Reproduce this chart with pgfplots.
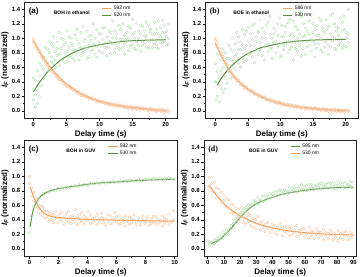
\documentclass[border=0pt]{standalone}
\usepackage{fontspec}
\setmainfont{Liberation Sans}
\newfontfamily\serifb{Liberation Serif}
\usepackage{pgfplots}
\usepackage{pgfplotstable}
\pgfplotsset{compat=1.18}

\definecolor{orl}{HTML}{F4A15D}
\definecolor{orm}{HTML}{F6C29C}
\definecolor{grl}{HTML}{5E8D3F}
\definecolor{grm}{HTML}{ADDCA8}

\pgfplotstableread{
t o o2 g1 g2 g3
0.0 0.95 0.99 0.15 0.30 0.45
0.3 0.93 0.89 0.05 0.42 0.22
0.6 0.87 0.84 0.28 0.55 0.10
0.9 0.80 0.83 0.48 0.20 0.66
1.2 0.77 0.74 0.62 0.35 0.80
1.5 0.70 0.73 0.58 0.75 0.45
1.8 0.69 0.66 0.72 0.50 0.88
2.1 0.62 0.65 0.66 0.85 0.55
2.4 0.61 0.58 0.80 0.58 0.96
2.7 0.57 0.55 0.74 0.92 0.68
3.0 0.52 0.55 0.88 0.65 1.02
3.3 0.51 0.48 0.70 0.82 0.60
3.6 0.46 0.49 0.95 0.76 0.86
3.9 0.45 0.43 0.78 0.62 1.08
4.2 0.41 0.43 0.86 1.00 0.70
4.5 0.40 0.38 0.72 0.90 0.98
4.8 0.36 0.38 0.94 0.80 0.66
5.1 0.35 0.33 0.82 0.68 1.10
5.4 0.33 0.35 1.02 0.87 0.74
5.7 0.30 0.32 0.76 0.93 1.00
6.0 0.30 0.28 0.90 0.72 0.84
6.3 0.27 0.29 0.84 1.05 0.69
6.6 0.26 0.24 0.98 0.78 1.12
6.9 0.24 0.26 0.70 0.92 0.86
7.2 0.23 0.21 0.88 1.08 0.76
7.5 0.21 0.23 0.95 0.80 1.16
7.8 0.21 0.19 0.82 0.99 0.88
8.1 0.19 0.20 1.10 0.86 0.72
8.4 0.18 0.16 0.90 0.75 1.02
8.7 0.17 0.19 0.97 1.04 0.82
9.0 0.16 0.15 0.84 0.92 1.20
9.3 0.15 0.16 1.00 0.78 0.90
9.6 0.14 0.12 0.88 1.12 0.74
9.9 0.13 0.15 0.95 0.83 1.06
10.2 0.13 0.11 1.06 0.90 0.80
10.5 0.12 0.13 0.80 0.98 1.14
10.8 0.11 0.10 0.93 1.15 0.87
11.1 0.10 0.12 1.02 0.86 0.76
11.4 0.10 0.08 0.88 0.96 1.10
11.7 0.09 0.10 1.08 0.79 0.94
12.0 0.09 0.07 0.92 1.01 1.24
12.3 0.08 0.09 0.85 1.10 0.80
12.6 0.08 0.06 1.00 0.90 1.06
12.9 0.07 0.08 0.94 1.18 0.86
13.2 0.07 0.05 1.12 0.84 0.98
13.5 0.06 0.08 0.88 0.98 1.20
13.8 0.06 0.04 1.04 0.92 0.78
14.1 0.05 0.07 0.96 1.08 1.00
14.4 0.05 0.03 0.83 1.00 1.16
14.7 0.05 0.06 1.14 0.90 0.88
15.0 0.04 0.02 0.92 1.05 1.26
15.3 0.04 0.05 1.00 0.86 1.08
15.6 0.04 0.02 1.20 0.95 0.84
15.9 0.03 0.05 0.90 1.10 1.00
16.2 0.03 0.01 1.06 0.82 1.18
16.5 0.03 0.04 0.95 1.16 0.90
16.8 0.03 0.01 1.10 0.92 1.04
17.1 0.02 0.03 0.88 1.02 1.22
17.4 0.02 0.00 1.18 0.96 0.86
17.7 0.02 0.03 0.98 1.08 1.12
18.0 0.02 0.00 1.05 0.87 0.98
18.3 0.01 0.02 0.92 1.22 1.06
18.6 0.01 -0.01 1.12 0.97 0.88
18.9 0.01 0.02 0.86 1.06 1.24
19.2 0.01 -0.01 1.02 1.15 0.94
19.5 0.00 0.02 1.25 0.94 1.08
19.8 0.00 -0.02 0.96 1.08 1.18
20.1 0.00 0.01 1.10 0.90 1.02
20.4 0.01 -0.02 1.00 1.20 0.92
}\tA

\pgfplotstableread{
t o o2 g1 g2 g3
0.0 0.97 1.00 0.40 0.65 0.15
0.3 0.90 0.94 0.20 0.55 0.78
0.6 0.86 0.82 0.45 0.12 0.35
0.9 0.80 0.77 0.30 0.70 0.55
1.2 0.72 0.75 0.60 0.25 0.85
1.5 0.68 0.65 0.48 0.80 0.30
1.8 0.62 0.64 0.72 0.38 0.62
2.1 0.57 0.55 0.55 0.90 0.72
2.4 0.53 0.55 0.85 0.62 0.45
2.7 0.49 0.47 0.68 1.00 0.82
3.0 0.46 0.48 0.92 0.75 0.58
3.3 0.43 0.41 0.78 1.08 0.94
3.6 0.40 0.42 1.02 0.66 0.84
3.9 0.38 0.36 0.84 0.95 0.60
4.2 0.35 0.37 0.72 1.12 0.92
4.5 0.33 0.31 1.05 0.86 0.68
4.8 0.31 0.33 0.90 0.70 1.10
5.1 0.29 0.28 1.15 0.96 0.78
5.4 0.28 0.26 0.80 1.06 0.90
5.7 0.26 0.28 0.98 0.74 1.18
6.0 0.24 0.22 1.20 0.90 0.66
6.3 0.23 0.24 0.85 1.02 0.96
6.6 0.22 0.20 1.10 0.78 1.08
6.9 0.20 0.21 0.94 1.25 0.82
7.2 0.19 0.18 0.76 1.00 1.14
7.5 0.18 0.19 1.08 0.88 0.70
7.8 0.17 0.15 0.92 1.18 1.00
8.1 0.15 0.16 1.22 0.82 0.92
8.4 0.15 0.13 0.86 1.05 1.30
8.7 0.14 0.15 1.00 0.72 0.86
9.0 0.13 0.12 1.14 0.94 1.06
9.3 0.12 0.13 0.80 1.10 0.96
9.6 0.11 0.10 1.04 0.88 1.20
9.9 0.11 0.12 0.92 1.28 0.74
10.2 0.10 0.08 1.18 0.76 1.02
10.5 0.09 0.10 0.84 1.02 0.90
10.8 0.09 0.07 1.08 0.92 1.16
11.1 0.08 0.09 0.96 1.22 0.80
11.4 0.08 0.06 1.26 0.84 1.04
11.7 0.07 0.08 0.88 1.06 0.94
12.0 0.07 0.05 1.02 0.70 1.24
12.3 0.06 0.07 1.16 0.96 0.86
12.6 0.06 0.04 0.82 1.12 1.00
12.9 0.05 0.06 1.06 0.90 1.36
13.2 0.05 0.03 0.94 1.30 0.76
13.5 0.05 0.06 1.20 0.86 1.02
13.8 0.04 0.02 0.78 1.04 1.14
14.1 0.04 0.05 1.10 0.95 0.88
14.4 0.04 0.02 0.90 1.24 1.06
14.7 0.03 0.04 1.32 0.82 0.98
15.0 0.03 0.01 0.96 1.08 1.20
15.3 0.03 0.04 1.12 0.74 0.92
15.6 0.03 0.01 0.86 1.18 1.04
15.9 0.02 0.03 1.04 0.92 1.28
16.2 0.02 0.00 1.24 1.00 0.84
16.5 0.02 0.03 0.80 1.14 1.10
16.8 0.02 0.00 1.08 0.88 0.96
17.1 0.01 0.02 0.94 1.26 1.12
17.4 0.01 -0.01 1.16 0.78 0.90
17.7 0.01 0.02 0.88 1.06 1.32
18.0 0.01 -0.01 1.34 0.96 1.02
18.3 0.01 0.02 1.00 1.20 0.86
18.6 0.01 -0.01 0.84 1.10 1.16
18.9 0.00 0.01 1.14 0.90 1.04
19.2 0.00 -0.02 0.96 1.28 0.92
19.5 0.00 0.01 1.22 0.86 1.10
19.8 0.00 -0.02 0.90 1.12 1.30
20.1 0.00 0.01 1.08 1.00 0.88
20.4 0.00 -0.01 1.40 0.94 1.06
}\tB

\pgfplotstableread{
t o1 o2 g
0.00 1.00 0.90 0.22
0.15 0.84 0.72 0.45
0.30 0.66 0.78 0.58
0.45 0.70 0.58 0.64
0.60 0.54 0.66 0.70
0.75 0.60 0.48 0.72
0.90 0.46 0.58 0.75
1.05 0.55 0.42 0.76
1.20 0.44 0.52 0.78
1.35 0.50 0.38 0.78
1.50 0.40 0.48 0.80
1.65 0.47 0.36 0.81
1.80 0.42 0.52 0.80
1.95 0.36 0.45 0.83
2.10 0.48 0.40 0.82
2.25 0.38 0.50 0.84
2.40 0.45 0.34 0.83
2.55 0.40 0.49 0.85
2.70 0.52 0.37 0.84
2.85 0.35 0.44 0.86
3.00 0.46 0.40 0.85
3.15 0.39 0.54 0.87
3.30 0.44 0.33 0.86
3.45 0.37 0.47 0.88
3.60 0.50 0.39 0.87
3.75 0.34 0.45 0.89
3.90 0.43 0.38 0.88
4.05 0.40 0.51 0.87
4.20 0.47 0.35 0.90
4.35 0.36 0.42 0.89
4.50 0.44 0.39 0.90
4.65 0.33 0.48 0.91
4.80 0.41 0.37 0.89
4.95 0.49 0.43 0.91
5.10 0.36 0.40 0.92
5.25 0.42 0.32 0.90
5.40 0.38 0.47 0.92
5.55 0.45 0.35 0.91
5.70 0.34 0.41 0.93
5.85 0.40 0.50 0.92
6.00 0.37 0.44 0.93
6.15 0.46 0.33 0.92
6.30 0.35 0.40 0.94
6.45 0.42 0.36 0.93
6.60 0.31 0.45 0.94
6.75 0.39 0.38 0.93
6.90 0.44 0.34 0.95
7.05 0.36 0.41 0.94
7.20 0.40 0.47 0.95
7.35 0.33 0.37 0.94
7.50 0.43 0.39 0.96
7.65 0.38 0.32 0.95
7.80 0.46 0.41 0.94
7.95 0.35 0.37 0.96
8.10 0.40 0.44 0.95
8.25 0.32 0.38 0.96
8.40 0.42 0.35 0.95
8.55 0.37 0.45 0.97
8.70 0.44 0.34 0.96
8.85 0.34 0.40 0.95
9.00 0.39 0.36 0.97
9.15 0.45 0.31 0.96
9.30 0.35 0.42 0.97
9.45 0.41 0.37 0.96
9.60 0.33 0.48 0.98
9.75 0.38 0.36 0.97
9.90 0.52 0.40 0.96
}\tC

\pgfplotstableread{
t o1 o2 g1 g2
1.0 0.98 0.86 0.06 0.10
2.5 0.90 0.80 0.09 0.04
4.0 0.78 0.92 0.12 0.07
5.5 0.84 0.70 0.10 0.14
7.0 0.72 0.82 0.16 0.11
8.5 0.78 0.64 0.14 0.19
10.0 0.66 0.74 0.22 0.17
11.5 0.58 0.70 0.20 0.26
13.0 0.68 0.55 0.27 0.23
14.5 0.50 0.62 0.32 0.28
16.0 0.60 0.48 0.35 0.40
17.5 0.45 0.56 0.42 0.36
19.0 0.54 0.40 0.44 0.48
20.5 0.42 0.58 0.50 0.45
22.0 0.50 0.36 0.48 0.55
23.5 0.44 0.34 0.57 0.52
25.0 0.38 0.48 0.55 0.60
26.5 0.46 0.32 0.62 0.58
28.0 0.30 0.42 0.60 0.66
29.5 0.40 0.28 0.66 0.63
31.0 0.34 0.44 0.62 0.70
32.5 0.26 0.36 0.68 0.66
34.0 0.38 0.30 0.72 0.65
35.5 0.24 0.34 0.67 0.73
37.0 0.36 0.28 0.74 0.70
38.5 0.30 0.22 0.70 0.76
40.0 0.34 0.26 0.76 0.72
41.5 0.22 0.32 0.73 0.78
43.0 0.30 0.20 0.79 0.74
44.5 0.27 0.34 0.75 0.80
46.0 0.18 0.28 0.81 0.76
47.5 0.31 0.24 0.77 0.82
49.0 0.22 0.29 0.80 0.75
50.5 0.28 0.18 0.84 0.78
52.0 0.20 0.30 0.79 0.83
53.5 0.26 0.22 0.85 0.80
55.0 0.32 0.17 0.78 0.84
56.5 0.19 0.25 0.86 0.81
58.0 0.27 0.21 0.82 0.88
59.5 0.16 0.28 0.85 0.80
61.0 0.24 0.20 0.80 0.87
62.5 0.30 0.15 0.88 0.83
64.0 0.18 0.25 0.84 0.89
65.5 0.23 0.14 0.81 0.86
67.0 0.28 0.20 0.88 0.84
68.5 0.15 0.24 0.85 0.90
70.0 0.22 0.18 0.90 0.82
71.5 0.27 0.12 0.84 0.88
73.0 0.17 0.23 0.89 0.86
74.5 0.21 0.14 0.83 0.91
76.0 0.26 0.19 0.90 0.85
77.5 0.13 0.22 0.86 0.92
79.0 0.20 0.16 0.88 0.83
80.5 0.25 0.11 0.93 0.87
82.0 0.15 0.21 0.85 0.90
83.5 0.22 0.13 0.91 0.86
85.0 0.18 0.24 0.84 0.92
86.5 0.12 0.19 0.89 0.87
88.0 0.23 0.15 0.86 0.93
89.5 0.17 0.21 0.92 0.84
}\tD

\pgfplotsset{
  panel/.style={
    scale only axis, width=152.5bp, height=116bp,
    ymin=-0.1, ymax=1.5, ytick={0,0.2,...,1.4},
    yticklabel style={/pgf/number format/fixed,/pgf/number format/fixed zerofill,/pgf/number format/precision=1, inner sep=1.2bp},
    xticklabel style={inner sep=1bp},
    /pgf/number format/assume math mode=true,
    tick align=outside, tick pos=left, minor tick num=1,
    major tick length=2.8bp, minor tick length=1.6bp,
    tick style={black, line width=0.5pt},
    axis line style={black!85, line width=0.6pt},
    ticklabel style={font=\fontsize{6}{7}\selectfont\bfseries},
    xlabel={Delay time (s)},
    ylabel={{\itshape I\textsubscript{F}} (normalized)},
    label style={font=\fontsize{8}{9}\selectfont\bfseries},
    xlabel style={at={(axis description cs:0.5,-0.143)}, anchor=center},
    ylabel style={at={(axis description cs:-0.128,0.5)}, anchor=center},
    legend style={draw=none, fill=none, font=\fontsize{5}{6}\selectfont,
      anchor=north west, row sep=-2pt, inner sep=1pt},
    legend cell align=left,
    legend image code/.code={\draw[##1, line width=0.8pt] (0,0) -- (0.32cm,0);},
  },
  sco/.style={only marks, mark=o, mark size=1.4bp, color=orm, mark options={line width=0.3pt}, forget plot},
  scg/.style={only marks, mark=o, mark size=1.4bp, color=grm, mark options={line width=0.3pt}, forget plot},
  fito/.style={orl, line width=1.1pt, smooth, no marks},
  fitg/.style={grl, line width=1.0pt, smooth, no marks},
}

\begin{document}
\begin{tikzpicture}
\path[use as bounding box] (0,0) rectangle (361bp,-277bp);

% (a)
\begin{axis}[panel, at={(24.5bp,-2bp)}, anchor=north west,
  xmin=-1.34, xmax=21.7, xtick={0,5,...,20}, legend style={at={(0.5,0.995)}}]
\addplot[scg] table[x=t,y=g1]{\tA};
\addplot[scg] table[x=t,y=g2]{\tA};
\addplot[scg] table[x=t,y=g3]{\tA};
\addplot[sco] table[x=t,y=o]{\tA};
\addplot[sco] table[x=t,y=o2]{\tA};
\addplot[fito] coordinates {(0,0.97)(1,0.80)(2,0.66)(3,0.55)(4,0.45)(5,0.37)(6,0.30)(7,0.245)(8,0.20)(9,0.16)(10,0.13)(12,0.085)(14,0.055)(16,0.035)(18,0.015)(20,0.0)};
\addlegendentry{592 nm}
\addplot[fitg] coordinates {(0,0.26)(1,0.40)(2,0.52)(3,0.61)(4,0.69)(5,0.75)(6,0.80)(7,0.84)(8,0.87)(10,0.91)(12,0.94)(14,0.96)(16,0.97)(18,0.975)(20,0.98)};
\addlegendentry{520 nm}
\node[anchor=west, font=\fontsize{8}{9}\selectfont\bfseries] at (rel axis cs:0.005,0.915) {(a)};
\node[font=\fontsize{5}{6}\selectfont\bfseries] at (rel axis cs:0.31,0.905) {BOH in ethanol};
\end{axis}

% (b)
\begin{axis}[panel, at={(205.5bp,-2bp)}, anchor=north west,
  xmin=-1.5, xmax=21.9, xtick={0,5,...,20}, legend style={at={(0.5,0.995)}}]
\addplot[scg] table[x=t,y=g1]{\tB};
\addplot[scg] table[x=t,y=g2]{\tB};
\addplot[scg] table[x=t,y=g3]{\tB};
\addplot[sco] table[x=t,y=o]{\tB};
\addplot[sco] table[x=t,y=o2]{\tB};
\addplot[fito] coordinates {(0,0.93)(1,0.74)(2,0.58)(3,0.46)(4,0.37)(5,0.30)(6,0.24)(7,0.19)(8,0.15)(10,0.10)(12,0.06)(14,0.04)(16,0.02)(18,0.01)(20,0.0)};
\addlegendentry{586 nm}
\addplot[fitg] coordinates {(0.3,0.35)(1,0.46)(2,0.57)(3,0.66)(4,0.73)(5,0.79)(6,0.83)(7,0.87)(8,0.89)(10,0.93)(12,0.955)(14,0.97)(16,0.978)(18,0.982)(20,0.985)};
\addlegendentry{530 nm}
\node[anchor=west, font=\fontsize{8}{9}\selectfont\serifb\bfseries] at (rel axis cs:0.005,0.915) {(b)};
\node[font=\fontsize{5}{6}\selectfont\bfseries] at (rel axis cs:0.30,0.905) {BOE in ethanol};
\end{axis}

% (c)
\begin{axis}[panel, at={(24.5bp,-140bp)}, anchor=north west,
  xmin=-0.34, xmax=10.16, xtick={0,2,...,10}, legend style={at={(0.54,0.995)}}]
\addplot[sco] table[x=t,y=o1]{\tC};
\addplot[sco] table[x=t,y=o2]{\tC};
\addplot[scg] table[x=t,y=g]{\tC};
\addplot[fito] coordinates {(0.05,0.85)(0.2,0.76)(0.4,0.66)(0.6,0.59)(0.8,0.53)(1.0,0.49)(1.3,0.46)(1.6,0.44)(2.0,0.43)(3,0.415)(4,0.406)(5,0.40)(6,0.394)(7,0.39)(8,0.386)(9,0.383)(10,0.381)};
\addlegendentry{592 nm}
\addplot[fitg] coordinates {(0.05,0.30)(0.15,0.44)(0.3,0.56)(0.45,0.63)(0.6,0.68)(0.8,0.73)(1.0,0.76)(1.3,0.79)(1.6,0.81)(2.0,0.83)(3,0.86)(4,0.89)(5,0.91)(6,0.92)(7,0.935)(8,0.945)(9,0.953)(10,0.96)};
\addlegendentry{530 nm}
\node[anchor=west, font=\fontsize{8}{9}\selectfont\bfseries] at (rel axis cs:0.005,0.915) {(c)};
\node[font=\fontsize{5}{6}\selectfont\bfseries] at (rel axis cs:0.37,0.905) {BOH in GUV};
\end{axis}

% (d)
\begin{axis}[panel, at={(204bp,-140bp)}, anchor=north west,
  xmin=-2.3, xmax=91.9, xtick={0,10,...,90}, legend style={at={(0.56,0.995)}}]
\addplot[sco] table[x=t,y=o1]{\tD};
\addplot[sco] table[x=t,y=o2]{\tD};
\addplot[scg] table[x=t,y=g1]{\tD};
\addplot[scg] table[x=t,y=g2]{\tD};
\addplot[fitg] coordinates {(2,0.07)(5,0.10)(8,0.14)(11,0.20)(14,0.27)(17,0.35)(20,0.43)(23,0.50)(26,0.56)(30,0.62)(35,0.67)(40,0.71)(45,0.745)(50,0.77)(55,0.79)(60,0.805)(70,0.83)(80,0.843)(90,0.85)};
\addlegendentry{595 nm}
\addplot[fito] coordinates {(1,0.87)(5,0.75)(10,0.62)(15,0.53)(20,0.455)(25,0.40)(30,0.35)(35,0.315)(40,0.287)(45,0.264)(50,0.246)(55,0.233)(60,0.222)(70,0.205)(80,0.196)(90,0.19)};
\addlegendentry{530 nm}
\node[anchor=west, font=\fontsize{8}{9}\selectfont\serifb\bfseries] at (rel axis cs:0.005,0.915) {(d)};
\node[font=\fontsize{5}{6}\selectfont\bfseries] at (rel axis cs:0.39,0.905) {BOE in GUV};
\end{axis}
\end{tikzpicture}
\end{document}
